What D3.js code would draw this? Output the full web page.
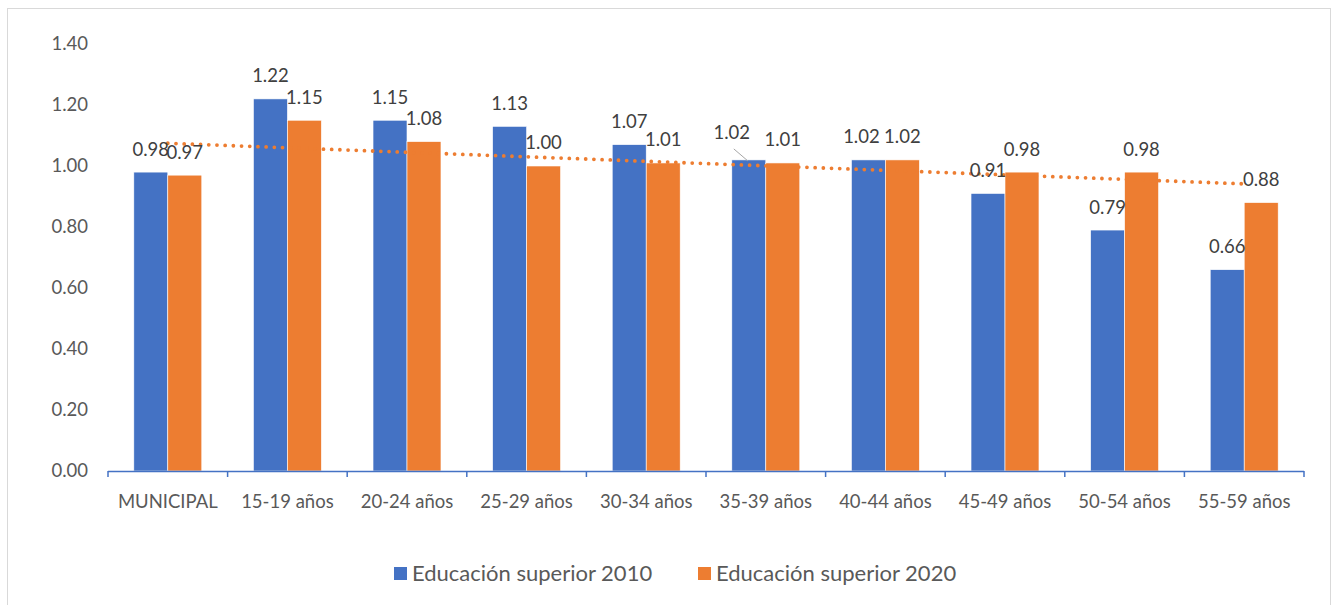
<!DOCTYPE html>
<html>
<head>
<meta charset="utf-8">
<script src="https://cdn.jsdelivr.net/npm/d3@7"></script>
<style>
  body { margin: 0; background: #fff; }
  text { font-family: Lato, "Liberation Sans", sans-serif; }
</style>
</head>
<body>
<svg id="chart" width="1334" height="605"></svg>
<script>
// ---------------------------------------------------------------------------
// data
const categories = ['MUNICIPAL', '15-19 años', '20-24 años', '25-29 años', '30-34 años',
                    '35-39 años', '40-44 años', '45-49 años', '50-54 años', '55-59 años'];
const seriesNames = ['Educación superior 2010', 'Educación superior 2020'];
const values2010 = [0.98, 1.22, 1.15, 1.13, 1.07, 1.02, 1.02, 0.91, 0.79, 0.66];
const values2020 = [0.97, 1.15, 1.08, 1.00, 1.01, 1.01, 1.02, 0.98, 0.98, 0.88];
const yTicks = [0, 0.2, 0.4, 0.6, 0.8, 1.0, 1.2, 1.4];

// ---------------------------------------------------------------------------
const colors = ['#4472C4', '#ED7D31'];
const fs = 18.5;
const svg = d3.select('#chart');

// chart area frame
svg.append('rect')
   .attr('x', 7.5).attr('y', 8.5)
   .attr('width', 1323).attr('height', 620)
   .attr('fill', '#fff').attr('stroke', '#d9d9d9');

let x0 = d3.scaleBand().domain(categories).range([108, 1304]).padding(0);
let x1 = d3.scaleBand().domain([0, 1]).range([0, x0.step()])
           .paddingInner(0).paddingOuter(0.76);
let y = d3.scaleLinear().domain([0, 1.4]).range([471, 44]);

// y axis labels (no line, no grid)
svg.append('g').selectAll('text')
   .data(yTicks).join('text')
   .attr('x', 88).attr('y', d => y(d))
   .attr('dy', '0.35em')
   .attr('text-anchor', 'end')
   .attr('font-size', fs).attr('fill', '#595959')
   .text(d => d3.format('.2f')(d));

// bars
let rows = categories.map((c, i) => ({cat: c, vals: [values2010[i], values2020[i]]}));

let groups = svg.append('g').selectAll('g')
   .data(rows).join('g')
   .attr('transform', d => `translate(${x0(d.cat)},0)`);

groups.selectAll('rect')
   .data(d => d.vals.map((v, s) => ({s: s, v: v})))
   .join('rect')
   .attr('x', d => x1(d.s))
   .attr('width', x1.bandwidth())
   .attr('y', d => y(d.v))
   .attr('height', d => y(0) - y(d.v))
   .attr('fill', d => colors[d.s])
   .attr('stroke', '#fff').attr('stroke-width', 0.6);

// x axis: line + tick marks at category boundaries
let xa = svg.append('g');
xa.append('line')
  .attr('x1', 108).attr('x2', 1304)
  .attr('y1', 471.5).attr('y2', 471.5)
  .attr('stroke', colors[0]).attr('stroke-width', 1.5);
xa.selectAll('line.tick')
  .data(d3.range(categories.length + 1)).join('line')
  .attr('class', 'tick')
  .attr('x1', i => 108 + i * x0.step()).attr('x2', i => 108 + i * x0.step())
  .attr('y1', 471).attr('y2', 477)
  .attr('stroke', colors[0]).attr('stroke-width', 1.5);
xa.selectAll('text')
  .data(categories).join('text')
  .attr('x', d => x0(d) + x0.bandwidth() / 2)
  .attr('y', 502).attr('dy', '0.35em')
  .attr('text-anchor', 'middle')
  .attr('font-size', fs).attr('fill', '#595959')
  .text(d => d);

// linear trendline of the 2020 series (least squares, like Excel)
let n = values2020.length;
let mx = d3.mean(d3.range(1, n + 1)), my = d3.mean(values2020);
let sxy = d3.sum(values2020, (v, i) => (i + 1 - mx) * (v - my));
let sxx = d3.sum(d3.range(1, n + 1), k => (k - mx) * (k - mx));
let slope = sxy / sxx, icpt = my - slope * mx;
let cx = c => x0(c) + x0.bandwidth() / 2;

svg.append('line')
   .attr('x1', cx(categories[0])).attr('y1', y(icpt + slope * 1))
   .attr('x2', cx(categories[n - 1])).attr('y2', y(icpt + slope * n))
   .attr('stroke', colors[1]).attr('stroke-width', 3.8)
   .attr('stroke-linecap', 'round')
   .attr('stroke-dasharray', '0 8.2');

// data labels
let labels = [];
rows.forEach(r => r.vals.forEach((v, s) => labels.push({cat: r.cat, s: s, v: v})));

// labels that were dragged by hand in the original (one has a leader line)
let nudges = [
  {cat: '35-39 años', s: 0, dx: -17, dy: -4, leader: true},
  {cat: '40-44 años', s: 0, dx: -7, dy: 0, leader: false}
];

let lg = svg.append('g');
labels.forEach(d => {
  let bx = x0(d.cat) + x1(d.s) + x1.bandwidth() / 2;
  let by = y(d.v) - 23;
  let nd = nudges.find(m => m.cat == d.cat && m.s == d.s);
  if (nd) {
    if (nd.leader) {
      lg.append('line')
        .attr('x1', bx - 15).attr('y1', by + 12)
        .attr('x2', bx - 1).attr('y2', y(d.v) + 1)
        .attr('stroke', '#a6a6a6').attr('stroke-width', 1);
    }
    bx += nd.dx; by += nd.dy;
  }
  lg.append('text')
    .attr('x', bx).attr('y', by).attr('dy', '0.35em')
    .attr('text-anchor', 'middle')
    .attr('font-size', fs).attr('fill', '#404040')
    .text(d3.format('.2f')(d.v));
});

// legend
let legendX = [394, 698];
let leg = svg.append('g').selectAll('g')
   .data(seriesNames).join('g')
   .attr('transform', (d, i) => `translate(${legendX[i]},567)`);
leg.append('rect')
   .attr('width', 13).attr('height', 13)
   .attr('fill', (d, i) => colors[i]);
leg.append('text')
   .attr('x', 18).attr('y', 6.5).attr('dy', '0.35em')
   .attr('font-size', 22).attr('fill', '#595959')
   .text(d => d);
</script>
</body>
</html>
